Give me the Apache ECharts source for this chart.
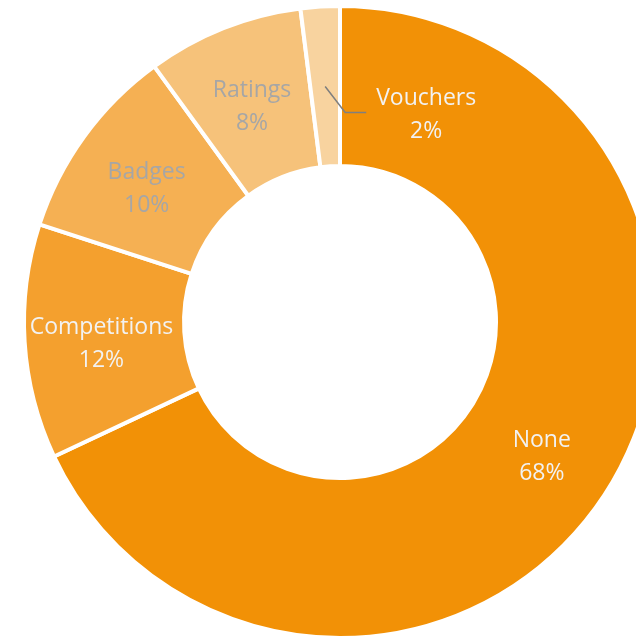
<!DOCTYPE html>
<html>
<head>
<meta charset="utf-8">
<script src="https://cdn.jsdelivr.net/npm/echarts@6/dist/echarts.min.js"></script>
<style>
  html, body { margin: 0; padding: 0; background: #ffffff; }
  #chart { width: 636px; height: 638px; }
</style>
</head>
<body>
<div id="chart"></div>
<script>
// Reward types and their shares (percent)
const categories = ['None', 'Competitions', 'Badges', 'Ratings', 'Vouchers'];
const shares = [68, 12, 10, 8, 2];
const sliceColors = ['#F29106', '#F4A02E', '#F5B053', '#F6C27A', '#F8D39F'];
const labelColors = ['#F2F2F2', '#F2F2F2', '#A6A6A6', '#A6A6A6', '#F2F2F2'];

const CENTER = [340, 322];
const R_IN = 156, R_OUT = 316;
const lastIdx = shares.length - 1;

// Leader shape for the thin last slice: diagonal step then a short horizontal run
const LEADER_DIAG = [20, 26];
const LEADER_RUN = 21;
const LEADER_TEXT_GAP = 60;

const data = categories.map((name, i) => ({
  name: name,
  value: shares[i],
  itemStyle: { color: sliceColors[i] },
  label: { color: labelColors[i] }
}));

// Middle of the ring at the slice's mid-angle, taken from the pie's own layout
function sliceAnchor(idx) {
  const lay = chart.getModel().getSeriesByIndex(0).getData().getItemLayout(idx);
  const mid = (lay.startAngle + lay.endAngle) / 2;
  const r = (lay.r0 + lay.r) / 2;
  return [lay.cx + r * Math.cos(mid), lay.cy + r * Math.sin(mid)];
}

function leaderPoints(idx) {
  const p0 = sliceAnchor(idx);
  const p1 = [p0[0] + LEADER_DIAG[0], p0[1] + LEADER_DIAG[1]];
  const p2 = [p1[0] + LEADER_RUN, p1[1]];
  return [p0, p1, p2];
}

const chart = echarts.init(document.getElementById('chart'), null, { renderer: 'canvas' });
chart.setOption({
  backgroundColor: '#ffffff',
  animation: false,
  series: [{
    type: 'pie',
    center: CENTER,
    radius: [R_IN, R_OUT],
    startAngle: 90,
    clockwise: true,
    avoidLabelOverlap: false,
    itemStyle: { borderColor: '#ffffff', borderWidth: 4 },
    label: {
      show: true,
      position: 'inside',
      fontFamily: 'Open Sans',
      fontSize: 23,
      lineHeight: 33,
      align: 'center',
      offset: [0, 7],
      formatter: p => p.name + '\n' + p.value + '%'
    },
    labelLine: { show: false },
    labelLayout: function (params) {
      if (params.dataIndex !== lastIdx) return {};
      const pts = leaderPoints(params.dataIndex);
      const end = pts[pts.length - 1];
      return {
        x: end[0] + LEADER_TEXT_GAP,
        y: end[1] + 2,
        align: 'center',
        verticalAlign: 'middle'
      };
    },
    data: data
  }]
});

// Grey leader line tying the last slice to its label
chart.setOption({
  graphic: [{
    type: 'polyline',
    z: 100,
    shape: { points: leaderPoints(lastIdx) },
    style: { stroke: '#7F7F7F', lineWidth: 1.5, fill: null }
  }]
});
</script>
</body>
</html>
